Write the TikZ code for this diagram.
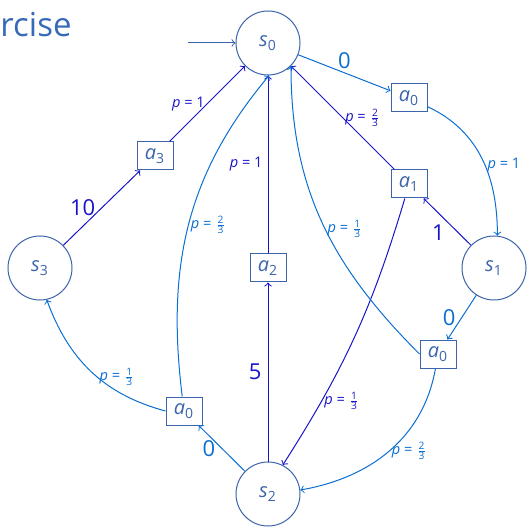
\documentclass[tikz,border=0pt]{standalone}
\usepackage{fontspec}
\setmainfont{Open Sans}
\usepackage{amsmath}
\usetikzlibrary{positioning}
\definecolor{stblue}{RGB}{60,100,170}
\definecolor{lblue}{RGB}{10,110,210}
\definecolor{dblue}{RGB}{25,20,200}
\definecolor{ttlblue}{RGB}{55,105,185}
\newcommand{\peq}[1]{\textit{p} = #1}
\newcommand{\pfr}[2]{\textit{p} = $\frac{\text{#1}}{\text{#2}}$}
\tikzset{
  stnode/.style={circle, draw=stblue, line width=0.5pt, minimum size=32pt, inner sep=0pt,
    text=stblue, font=\fontsize{10}{12}\selectfont},
  actnode/.style={rectangle, draw=stblue, line width=0.5pt, minimum width=18pt, minimum height=14pt,
    inner sep=1pt, text=stblue, font=\fontsize{10}{12}\selectfont},
  ledge/.style={->, color=lblue, line width=0.5pt},
  dedge/.style={->, color=dblue, line width=0.5pt},
  plbl/.style={font=\fontsize{7.3}{9}\selectfont, inner sep=1pt},
  rlbl/.style={font=\fontsize{11}{13}\selectfont, inner sep=1pt},
}

\begin{document}
\begin{tikzpicture}[x=0.5pt, y=-0.5pt]
  \useasboundingbox (0,0) rectangle (527,528);

  % frame title (cut off)
  \node[anchor=base west, inner sep=0pt, text=ttlblue, font=\fontsize{16.5}{20}\selectfont]
    (ttl) at (0,37) {rcise};

  % states
  \node[stnode] (s0) at (268,43) {\textit{s}\textsubscript{0}};
  \node[stnode] (s1) at (494,268) {\textit{s}\textsubscript{1}};
  \node[stnode] (s2) at (268,494) {\textit{s}\textsubscript{2}};
  \node[stnode] (s3) at (40,268) {\textit{s}\textsubscript{3}};

  % actions
  \node[actnode] (a0top) at (409,98) {\textit{a}\textsubscript{0}};
  \node[actnode] (a1) at (409,184) {\textit{a}\textsubscript{1}};
  \node[actnode] (a2) at (268,268) {\textit{a}\textsubscript{2}};
  \node[actnode] (a3) at (155,156) {\textit{a}\textsubscript{3}};
  \node[actnode] (a0right) at (438,354) {\textit{a}\textsubscript{0}};
  \node[actnode] (a0left) at (184,411) {\textit{a}\textsubscript{0}};

  % initial arrow
  \coordinate (init) at (188,43);
  \draw[->, stblue, line width=0.5pt] (init) -- (s0);

  % from s0
  \draw[ledge] (s0) -- node[rlbl, above=1pt, pos=0.5] {0} (a0top);
  \draw[ledge] (a0top) to[out=-25, in=90] node[plbl, anchor=west, pos=0.55] {\peq{1}} (s1.84);

  % from s1
  \draw[dedge] (s1) -- node[rlbl, below left, pos=0.5] {1} (a1);
  \draw[dedge] (a1) -- node[plbl, anchor=west, pos=0.5] {\pfr{2}{3}} (s0.-45);
  \draw[dedge] (a1) to[bend left=8] node[plbl, anchor=west, pos=0.76] {\pfr{1}{3}} (s2.63);
  \draw[ledge] (s1) -- node[rlbl, left=2pt, pos=0.5] {0} (a0right);
  \draw[ledge] (a0right.west) to[out=135, in=-90] node[plbl, anchor=west, pos=0.48] {\pfr{1}{3}} (s0.-45);
  \draw[ledge] (a0right) to[out=-100, in=10] node[plbl, anchor=west, pos=0.5] {\pfr{2}{3}} (s2.7);

  % from s2
  \draw[dedge] (s2) -- node[rlbl, left=2pt, pos=0.5] {5} (a2);
  \draw[dedge] (a2) -- node[plbl, left=1.5pt, pos=0.5] {\peq{1}} (s0);
  \draw[ledge] (s2) -- node[rlbl, left=2pt, pos=0.5] {0} (a0left);
  \draw[ledge] (a0left) to[out=97, in=-130] node[plbl, anchor=west, pos=0.5] {\pfr{2}{3}} (s0.-88);
  \draw[ledge] (a0left.west) to[out=165, in=-70] node[plbl, anchor=west, pos=0.45] {\pfr{1}{3}} (s3.-78);

  % from s3
  \draw[dedge] (s3) -- node[rlbl, left=2pt, pos=0.5] {10} (a3);
  \draw[dedge] (a3) -- node[plbl, anchor=east, pos=0.5] {\peq{1}} (s0.-135);
\end{tikzpicture}
\end{document}
